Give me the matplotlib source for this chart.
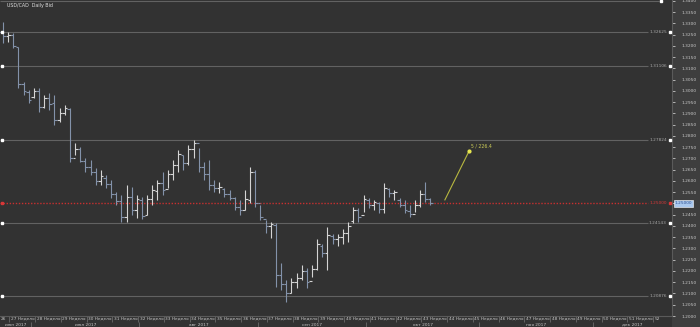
import matplotlib.pyplot as plt
import matplotlib.transforms as mtransforms
from matplotlib.patches import Rectangle
import numpy as np
import pandas as pd

# daily OHLC, USD/CAD from 26 Jun 2017
opens = [1.3262, 1.3245, 1.3250, 1.3195, 1.3030, 1.2995, 1.2975, 1.3000, 1.2930, 1.2970,
         1.2945, 1.2870, 1.2900, 1.2920, 1.2700, 1.2740, 1.2690, 1.2660, 1.2640, 1.2600,
         1.2615, 1.2585, 1.2540, 1.2510, 1.2440, 1.2530, 1.2470, 1.2515, 1.2450, 1.2520,
         1.2555, 1.2590, 1.2565, 1.2630, 1.2670, 1.2715, 1.2680, 1.2740, 1.2770, 1.2660,
         1.2630, 1.2580, 1.2570, 1.2565, 1.2540, 1.2525, 1.2485, 1.2470, 1.2515, 1.2640,
         1.2500, 1.2430, 1.2400, 1.2405, 1.2180, 1.2140, 1.2100, 1.2150, 1.2170, 1.2200,
         1.2155, 1.2210, 1.2310, 1.2280, 1.2355, 1.2340, 1.2350, 1.2370, 1.2420, 1.2470,
         1.2450, 1.2515, 1.2495, 1.2500, 1.2475, 1.2565, 1.2545, 1.2515, 1.2495, 1.2465,
         1.2455, 1.2495, 1.2540, 1.2520]
highs = [1.3307, 1.3264, 1.3258, 1.3196, 1.3040, 1.3004, 1.3013, 1.3013, 1.2982, 1.2991,
         1.2982, 1.2924, 1.2938, 1.2924, 1.2769, 1.2751, 1.2702, 1.2693, 1.2658, 1.2649,
         1.2627, 1.2604, 1.2551, 1.2538, 1.2582, 1.2573, 1.2538, 1.2530, 1.2538, 1.2582,
         1.2604, 1.2640, 1.2649, 1.2693, 1.2738, 1.2716, 1.2760, 1.2782, 1.2747, 1.2684,
         1.2693, 1.2604, 1.2596, 1.2569, 1.2560, 1.2529, 1.2516, 1.2560, 1.2662, 1.2649,
         1.2493, 1.2427, 1.2418, 1.2413, 1.2236, 1.2160, 1.2169, 1.2191, 1.2227, 1.2213,
         1.2227, 1.2342, 1.2320, 1.2396, 1.2364, 1.2364, 1.2387, 1.2418, 1.2484, 1.2480,
         1.2538, 1.2524, 1.2516, 1.2507, 1.2591, 1.2569, 1.2560, 1.2524, 1.2516, 1.2493,
         1.2516, 1.2560, 1.2596, 1.2524]
lows = [1.3212, 1.3219, 1.3191, 1.3013, 1.2982, 1.2947, 1.2969, 1.2907, 1.2924, 1.2916,
        1.2849, 1.2862, 1.2893, 1.2684, 1.2716, 1.2684, 1.2640, 1.2627, 1.2582, 1.2582,
        1.2569, 1.2524, 1.2493, 1.2418, 1.2418, 1.2449, 1.2436, 1.2430, 1.2449, 1.2493,
        1.2516, 1.2538, 1.2569, 1.2604, 1.2640, 1.2649, 1.2671, 1.2702, 1.2640, 1.2604,
        1.2560, 1.2551, 1.2547, 1.2529, 1.2516, 1.2471, 1.2449, 1.2471, 1.2502, 1.2484,
        1.2427, 1.2369, 1.2347, 1.2129, 1.2116, 1.2062, 1.2102, 1.2124, 1.2160, 1.2124,
        1.2173, 1.2204, 1.2262, 1.2204, 1.2320, 1.2309, 1.2320, 1.2329, 1.2413, 1.2418,
        1.2462, 1.2480, 1.2471, 1.2458, 1.2458, 1.2529, 1.2516, 1.2484, 1.2458, 1.2440,
        1.2462, 1.2484, 1.2507, 1.2493]
closes = [1.3245, 1.3250, 1.3200, 1.3030, 1.3000, 1.2960, 1.3000, 1.2930, 1.2970, 1.2940,
          1.2870, 1.2900, 1.2925, 1.2700, 1.2740, 1.2690, 1.2660, 1.2640, 1.2600, 1.2620,
          1.2585, 1.2540, 1.2510, 1.2440, 1.2530, 1.2470, 1.2520, 1.2445, 1.2520, 1.2560,
          1.2590, 1.2560, 1.2630, 1.2670, 1.2720, 1.2680, 1.2740, 1.2770, 1.2660, 1.2630,
          1.2580, 1.2570, 1.2575, 1.2540, 1.2525, 1.2485, 1.2470, 1.2520, 1.2640, 1.2500,
          1.2440, 1.2400, 1.2410, 1.2180, 1.2140, 1.2100, 1.2150, 1.2170, 1.2200, 1.2150,
          1.2210, 1.2320, 1.2280, 1.2360, 1.2340, 1.2350, 1.2370, 1.2400, 1.2470, 1.2440,
          1.2520, 1.2495, 1.2505, 1.2475, 1.2570, 1.2545, 1.2550, 1.2495, 1.2470, 1.2455,
          1.2495, 1.2540, 1.2520, 1.2503]

levels = [1.32625, 1.31106, 1.27824, 1.24143, 1.20876]
level_labels = ['1.32625', '1.31106', '1.27824', '1.24143', '1.20876']
top_level = 1.3400
bid = 1.2500
bid_label = '1.25000'
arrow_start = (85.8, 1.2516)
arrow_end = (90.5, 1.2733)
arrow_label = '5 / 226.4'
months_ru = ['янв', 'фев', 'мар', 'апр', 'май', 'июн', 'июл', 'авг', 'сен', 'окт', 'ноя', 'дек']

BG = '#323232'
PANEL = '#3e3e3e'
TXT = '#c8c8c8'

fig = plt.figure(figsize=(7, 3.27), dpi=100, facecolor=BG)
fig.patches.append(Rectangle((672 / 700, 0), 28 / 700, 1, transform=fig.transFigure,
                             facecolor=PANEL, edgecolor='none', zorder=-5))
ax = fig.add_axes([0, 11 / 327, 672 / 700, 316 / 327])
ax.set_facecolor(BG)
ax.set_xlim(-0.58, 129.9)
ax.set_ylim(1.2000, 1.34044)

# bars
x = np.arange(len(opens))
o, h, l, c = map(np.array, (opens, highs, lows, closes))
cols = np.where(c >= o, '#d4d4d4', '#8392aa')
ax.vlines(x, l, h, colors=cols, lw=0.8, zorder=3)
ax.hlines(o, x - 0.5, x, colors=cols, lw=0.8, zorder=3)
ax.hlines(c, x, x + 0.5, colors=cols, lw=0.8, zorder=3)

# horizontal levels
ax.hlines(levels, -0.58, 125.2, colors='#626262', lw=0.8, zorder=2)
for lv, lab in zip(levels, level_labels):
    ax.text(128.9, lv, lab, ha='right', va='center', fontsize=3.1, color='#a8a8a8')
ax.plot([-0.2] * len(levels), levels, 's', ms=1.6, color='white', zorder=4)
ax.plot([129.6] * len(levels), levels, 's', ms=1.6, color='white', zorder=4)
ax.hlines(top_level, -0.58, 127.4, colors='#626262', lw=0.8, zorder=2)
ax.plot([127.8], [top_level], 's', ms=1.6, color='white', zorder=4)

# bid line
ax.hlines(bid, -0.58, 125.2, colors='#c83030', lw=1.0, linestyles=(0, (1, 1.2)), zorder=2)
ax.text(128.9, bid, bid_label, ha='right', va='center', fontsize=3.1, color='#d83838')
ax.plot([-0.2, 129.6], [bid, bid], 's', ms=1.6, color='#d83838', zorder=4)
ax.text(1.004, bid, bid_label, transform=mtransforms.blended_transform_factory(ax.transAxes, ax.transData),
        ha='left', va='center', fontsize=3.1, color='#2c4f90', clip_on=False, zorder=10,
        bbox=dict(boxstyle='square,pad=0.25', facecolor='#aac8ee', edgecolor='white', lw=0.4))

# trend arrow
ax.plot([arrow_start[0], arrow_end[0]], [arrow_start[1], arrow_end[1]], color='#b8b840', lw=0.8, zorder=4)
ax.plot([arrow_end[0]], [arrow_end[1]], 'o', ms=2, color='#e8e850', zorder=5)
ax.text(arrow_end[0] + 0.4, arrow_end[1] + 0.0016, arrow_label, fontsize=3.3, color='#d0d058')

# right price scale (the bid box sits over the 1.2500 label)
yt = np.round(np.arange(1.2000, 1.34001, 0.005), 4)
ax.yaxis.tick_right()
ax.set_yticks(yt)
ax.set_yticklabels(['' if abs(v - bid) < 1e-6 else f'{v:.4f}' for v in yt])
ax.tick_params(axis='y', direction='out', length=2, width=0.6, colors=TXT, labelsize=3.2, pad=5)
ax.set_xticks([])
for side in ['top', 'left']:
    ax.spines[side].set_visible(False)
for side in ['bottom', 'right']:
    ax.spines[side].set_color('#5a5a5a')
    ax.spines[side].set_linewidth(0.8)

# time scale: weeks and months
days = pd.bdate_range('2017-06-26', periods=132)
xt = ax.get_xaxis_transform()
week_row = -3 / 316
month_row = -9 / 316
mondays = [i for i, d in enumerate(days) if d.weekday() == 0]
ax.text(-0.4, week_row, '26', transform=xt, fontsize=3.1, color=TXT, va='center', clip_on=False)
for i in mondays[1:]:
    xs = i - 3.75
    if xs > 129:
        continue
    ax.vlines(xs, -6 / 316, 0, transform=xt, colors='#6a6a6a', lw=0.6, clip_on=False)
    wk = days[i].isocalendar()[1]
    lab = f'{wk} Неделя' if xs < 125 else f'{wk}'
    ax.text(xs + 0.3, week_row, lab, transform=xt, fontsize=3.1, color=TXT,
            va='center', ha='left', clip_on=False)

month_starts = [0] + [i for i in range(1, len(days)) if days[i].month != days[i - 1].month]
seps = [-0.58] + [i + 0.5 for i in month_starts[1:]] + [133]
for k, i in enumerate(month_starts):
    if k > 0:
        ax.vlines(seps[k], -12 / 316, -6 / 316, transform=xt, colors='#6a6a6a', lw=0.6, clip_on=False)
    mid = (seps[k] + min(seps[k + 1], 129.9)) / 2
    ax.text(mid, month_row, f'{months_ru[days[i].month - 1]} 2017', transform=xt, fontsize=3.1,
            color=TXT, va='center', ha='center', clip_on=False)

fig.text(7 / 700, 1 - 6 / 327, 'USD/CAD  Daily Bid', fontsize=3.4, color='#e0e0e0', va='center')

fig.savefig('out.png', dpi=100, facecolor=BG)
